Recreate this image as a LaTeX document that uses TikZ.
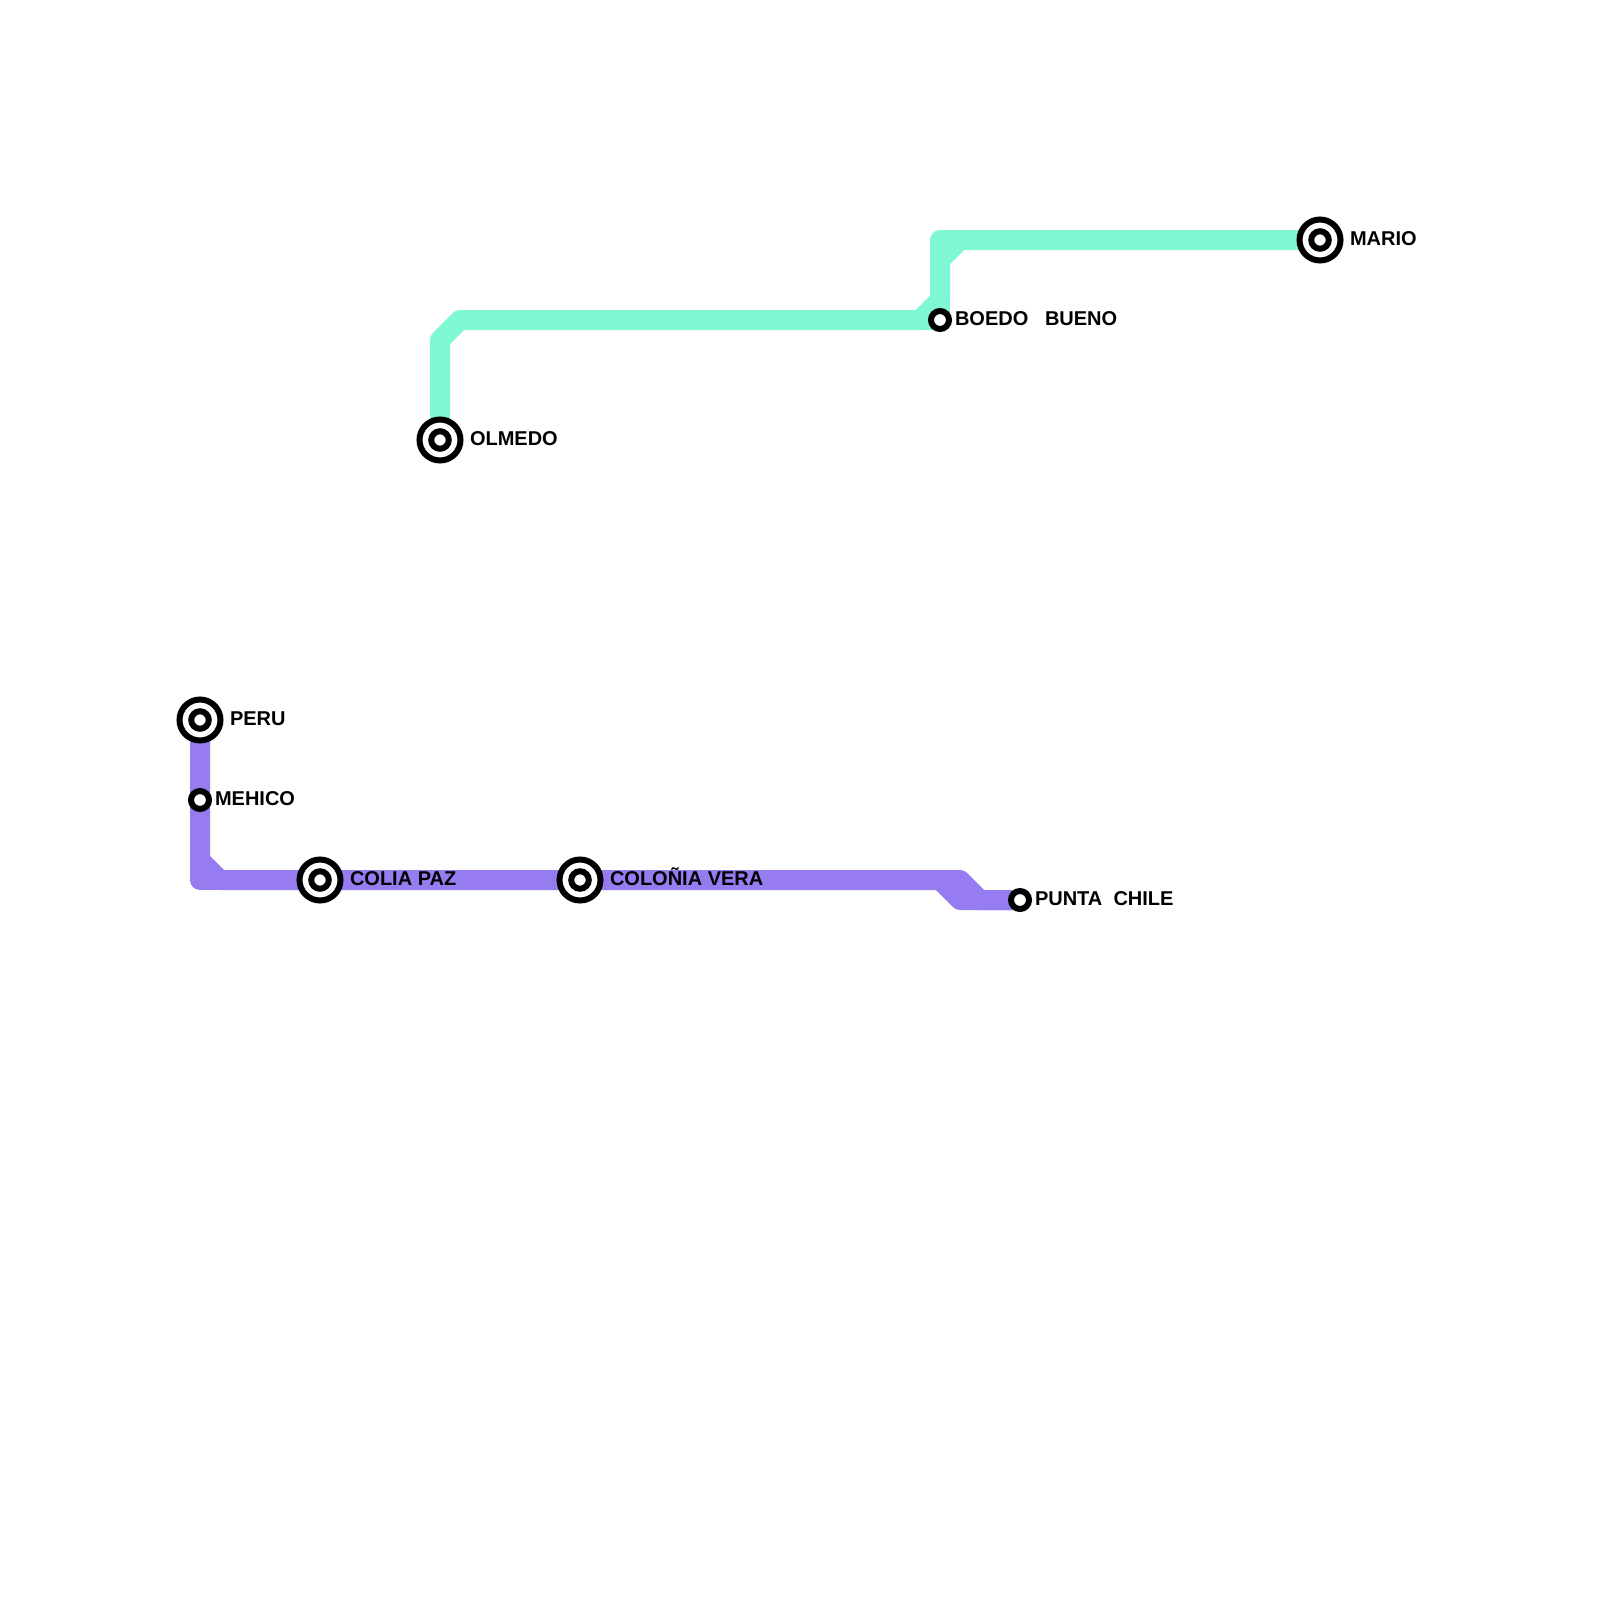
\documentclass[tikz,border=0pt]{standalone}
\usepackage{fontspec}
\setmainfont{Liberation Sans}
\tikzset{
  greenline/.style={draw=linegreen,line width=20pt,line join=round,line cap=butt},
  purpleline/.style={draw=linepurple,line width=20pt,line join=round,line cap=butt},
  bigstation/.style={circle,draw=black,fill=white,line width=6pt,minimum size=41pt,inner sep=0pt,outer sep=0pt},
  innerring/.style={circle,draw=black,fill=white,line width=6pt,minimum size=17.5pt,inner sep=0pt,outer sep=0pt},
  smallstation/.style={circle,draw=black,fill=white,line width=6pt,minimum size=18pt,inner sep=0pt,outer sep=0pt},
  stationlabel/.style={anchor=base west,inner sep=0pt,outer sep=0pt,font=\bfseries\fontsize{20pt}{24pt}\selectfont,text=black}
}
\definecolor{linegreen}{RGB}{126,247,212}
\definecolor{linepurple}{RGB}{150,123,241}
\begin{document}
\begin{tikzpicture}[x=1pt,y=-1pt]
\fill[white] (0,0) rectangle (1600,1600);
\useasboundingbox (0,0) rectangle (1600,1600);
% waypoints
\coordinate (olmedo) at (440,440);
\coordinate (g1) at (440,340);
\coordinate (g2) at (460,320);
\coordinate (g3) at (920,320);
\coordinate (g4) at (940,300);
\coordinate (g5) at (940,260);
\coordinate (g6) at (960,240);
\coordinate (g7) at (940,240);
\coordinate (boedo) at (940,320);
\coordinate (mario) at (1320,240);
\coordinate (peru) at (200,720);
\coordinate (mehico) at (200,800);
\coordinate (p1) at (200,860);
\coordinate (p2) at (220,880);
\coordinate (p3) at (200,880);
\coordinate (colia) at (320,880);
\coordinate (colonia) at (580,880);
\coordinate (p4) at (960,880);
\coordinate (p5) at (980,900);
\coordinate (p6) at (940,880);
\coordinate (p7) at (960,900);
\coordinate (punta) at (1020,900);
% green line
\draw[greenline] (olmedo) -- (g1) -- (g2) -- (g3) -- (g4) -- (g5) -- (g6) -- (mario);
\draw[greenline] (g3) -- (boedo) -- (g7) -- (g6);
% purple line
\draw[purpleline] (peru) -- (p1) -- (p2) -- (colia) -- (colonia) -- (p4) -- (p5) -- (punta);
\draw[purpleline] (p1) -- (p3) -- (p2);
\draw[purpleline] (p6) -- (p7) -- (punta);
% stations
\node[bigstation] (sOlmedo) at (olmedo) {};
\node[innerring] (iOlmedo) at (olmedo) {};
\node[bigstation] (sMario) at (mario) {};
\node[innerring] (iMario) at (mario) {};
\node[bigstation] (sPeru) at (peru) {};
\node[innerring] (iPeru) at (peru) {};
\node[bigstation] (sColia) at (colia) {};
\node[innerring] (iColia) at (colia) {};
\node[bigstation] (sColonia) at (colonia) {};
\node[innerring] (iColonia) at (colonia) {};
\node[smallstation] (sBoedo) at (boedo) {};
\node[smallstation] (sMehico) at (mehico) {};
\node[smallstation] (sPunta) at (punta) {};
% labels
\node[stationlabel] (lOlmedo) at (470,445) {OLMEDO};
\node[stationlabel] (lMario) at (1350,245) {MARIO};
\node[stationlabel] (lPeru) at (230,725) {PERU};
\node[stationlabel] (lColia) at (350,885) {COLIA PAZ};
\node[stationlabel] (lColonia) at (610,885) {COLOÑIA VERA};
\node[stationlabel] (lBoedo) at (955,325) {BOEDO\ \ \ BUENO};
\node[stationlabel] (lMehico) at (215,805) {MEHICO};
\node[stationlabel] (lPunta) at (1035,905) {PUNTA\ \ CHILE};
\end{tikzpicture}
\end{document}
